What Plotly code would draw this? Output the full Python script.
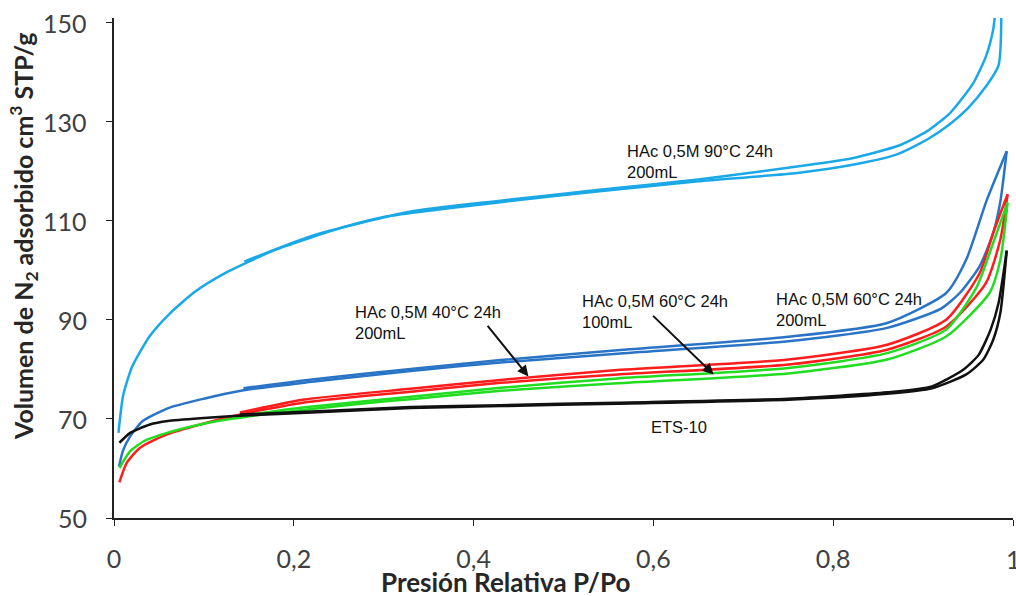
import plotly.graph_objects as go

# ---------------- data ----------------
# HAc 0,5M 90°C 24h 200mL (light blue)
lb_ads_x = [0.005, 0.010, 0.020, 0.040, 0.062, 0.090, 0.125, 0.150, 0.180, 0.220, 0.260, 0.300, 0.330, 0.430, 0.540, 0.650, 0.760, 0.820, 0.870, 0.904, 0.930, 0.950, 0.970, 0.984, 0.987]
lb_ads_y = [67.2, 74.6, 80.5, 86.8, 91.3, 95.7, 99.6, 101.8, 104.2, 106.7, 109.0, 110.8, 111.6, 113.8, 116.0, 118.0, 119.7, 121.3, 123.4, 126.4, 129.6, 132.8, 137.2, 141.5, 158.0]
lb_des_x = [0.987, 0.980, 0.978, 0.970, 0.956, 0.930, 0.904, 0.874, 0.820, 0.760, 0.650, 0.540, 0.430, 0.330, 0.220, 0.145]
lb_des_y = [158.0, 151.5, 148.7, 143.3, 137.9, 131.8, 128.1, 125.3, 122.6, 121.0, 118.4, 116.3, 114.1, 111.9, 107.0, 101.8]

# HAc 0,5M 60°C 24h 200mL (dark blue)
db_ads_x = [0.0056, 0.010, 0.018, 0.032, 0.062, 0.100, 0.144, 0.220, 0.330, 0.430, 0.560, 0.750, 0.860, 0.920, 0.941, 0.963, 0.978, 0.986, 0.993]
db_ads_y = [60.4, 63.6, 66.5, 69.6, 72.3, 74.1, 75.8, 77.5, 79.7, 81.4, 83.2, 85.7, 88.4, 92.3, 95.5, 100.9, 107.6, 114.0, 124.1]
db_des_x = [0.993, 0.971, 0.948, 0.926, 0.860, 0.750, 0.560, 0.430, 0.330, 0.220, 0.144]
db_des_y = [124.1, 114.3, 102.2, 95.5, 89.4, 86.6, 83.9, 81.9, 80.1, 78.0, 76.2]

# HAc 0,5M 40°C 24h 200mL (red)
rd_ads_x = [0.006, 0.014, 0.029, 0.059, 0.096, 0.133, 0.170, 0.210, 0.280, 0.330, 0.430, 0.560, 0.750, 0.860, 0.926, 0.970, 0.986, 0.994]
rd_ads_y = [57.2, 61.1, 64.2, 66.9, 68.9, 70.6, 72.0, 73.3, 74.7, 75.5, 77.3, 79.0, 81.0, 84.0, 88.7, 97.5, 106.3, 115.4]
rd_des_x = [0.994, 0.978, 0.963, 0.926, 0.860, 0.750, 0.560, 0.430, 0.330, 0.210, 0.140]
rd_des_y = [115.4, 107.6, 99.5, 90.1, 85.0, 82.0, 79.9, 77.9, 76.1, 73.9, 71.3]

# HAc 0,5M 60°C 24h 100mL (green)
gr_ads_x = [0.006, 0.018, 0.033, 0.059, 0.096, 0.133, 0.170, 0.210, 0.280, 0.330, 0.430, 0.560, 0.750, 0.860, 0.926, 0.974, 0.986, 0.994]
gr_ads_y = [60.1, 63.5, 65.5, 67.2, 68.9, 70.1, 71.0, 71.8, 73.2, 74.0, 75.7, 77.2, 79.2, 82.0, 86.7, 95.5, 102.2, 113.7]
gr_des_x = [0.994, 0.978, 0.960, 0.926, 0.860, 0.750, 0.560, 0.430, 0.330, 0.210, 0.140]
gr_des_y = [113.7, 105.6, 96.8, 88.1, 83.3, 80.3, 78.2, 76.3, 74.5, 72.3, 70.6]

# ETS-10 (black)
bk_ads_x = [0.006, 0.018, 0.040, 0.060, 0.100, 0.133, 0.170, 0.220, 0.280, 0.330, 0.430, 0.560, 0.750, 0.860, 0.910, 0.948, 0.967, 0.978, 0.986, 0.993]
bk_ads_y = [65.2, 67.2, 68.9, 69.6, 70.2, 70.6, 70.9, 71.3, 71.8, 72.2, 72.6, 73.1, 73.9, 75.1, 76.2, 79.0, 82.0, 86.0, 91.5, 104.0]
bk_des_x = [0.993, 0.984, 0.975, 0.962, 0.945, 0.910, 0.860, 0.750, 0.560, 0.430, 0.330, 0.220, 0.140]
bk_des_y = [104.0, 93.5, 88.0, 83.0, 80.0, 76.6, 75.4, 74.1, 73.3, 72.8, 72.4, 71.5, 70.9]

x_tickvals = [0, 0.2, 0.4, 0.6, 0.8, 1.0]
x_ticktext = ["0", "0,2", "0,4", "0,6", "0,8", "1"]
y_tickvals = [50, 70, 90, 110, 130, 150]
y_ticktext = ["50", "70", "90", "110", "130", "150"]

series = [
    ("HAc 0,5M 90°C 24h 200mL", "#1aa8e6", lb_ads_x, lb_ads_y, lb_des_x, lb_des_y),
    ("HAc 0,5M 60°C 24h 200mL", "#2a74c6", db_ads_x, db_ads_y, db_des_x, db_des_y),
    ("HAc 0,5M 40°C 24h 200mL", "#ff1c1c", rd_ads_x, rd_ads_y, rd_des_x, rd_des_y),
    ("HAc 0,5M 60°C 24h 100mL", "#22dc22", gr_ads_x, gr_ads_y, gr_des_x, gr_des_y),
    ("ETS-10", "#111111", bk_ads_x, bk_ads_y, bk_des_x, bk_des_y),
]

fig = go.Figure()
for name, color, ax_, ay_, dx_, dy_ in series:
    for xs, ys in ((ax_, ay_), (dx_, dy_)):
        fig.add_trace(go.Scatter(
            x=xs, y=ys, mode="lines", name=name, showlegend=False,
            line=dict(color=color, width=2.5, shape="spline", smoothing=0.6),
            hoverinfo="skip"))

lab_font = dict(family="Liberation Sans, Arial, sans-serif", size=16.5, color="#111111")
labels = [
    ("HAc 0,5M 90°C 24h<br>200mL", 625, 161),
    ("HAc 0,5M 40°C 24h<br>200mL", 353, 322),
    ("HAc 0,5M 60°C 24h<br>100mL", 580, 311),
    ("HAc 0,5M 60°C 24h<br>200mL", 774, 309),
]
annotations = []
for txt, px, py in labels:
    annotations.append(dict(text=txt, xref="paper", yref="paper",
                            x=(px - 114) / 899, y=(518 - py) / 500,
                            xanchor="left", yanchor="middle", align="left",
                            showarrow=False, font=lab_font))
annotations.append(dict(text="ETS-10", xref="paper", yref="paper",
                        x=(679 - 114) / 899, y=(518 - 427) / 500,
                        xanchor="center", yanchor="middle",
                        showarrow=False, font=lab_font))
# arrows
for hx, hy, ax, ay in [(0.461, 78.6, -42, -52), (0.667, 79.0, -62, -60)]:
    annotations.append(dict(x=hx, y=hy, xref="x", yref="y", text="",
                            showarrow=True, ax=ax, ay=ay, arrowhead=2,
                            arrowsize=1.1, arrowwidth=2, arrowcolor="#111111"))
tick_font = dict(family="Lato, sans-serif", size=25, color="#404040")
# y tick labels, placed at the tick values
for v, t in zip(y_tickvals, y_ticktext):
    annotations.append(dict(text=t, xref="paper", yref="y", x=(89 - 114) / 899, y=v,
                            xanchor="right", yanchor="middle", showarrow=False,
                            font=tick_font))
# last x tick label "1" (partly cut at the right edge, as in the reference)
annotations.append(dict(text=x_ticktext[-1], xref="paper", yref="paper",
                        x=1.0, y=(518 - 559) / 500, xanchor="center", yanchor="middle",
                        showarrow=False, font=tick_font))
# axis titles
annotations.append(dict(text="<b>Volumen de N<sub>2</sub> adsorbido cm<sup>3</sup> STP/g</b>",
                        xref="paper", yref="paper", x=(24 - 114) / 899, y=(518 - 237) / 500,
                        xanchor="center", yanchor="middle", textangle=-90, showarrow=False,
                        font=dict(family="Lato, sans-serif", size=25, color="#262626")))
annotations.append(dict(text="<b>Presión Relativa P/Po</b>",
                        xref="paper", yref="paper", x=(505 - 114) / 899, y=(518 - 582) / 500,
                        xanchor="center", yanchor="middle", showarrow=False,
                        font=dict(family="Lato, sans-serif", size=26, color="#262626")))

fig.update_layout(
    width=1016, height=596,
    margin=dict(l=114, r=3, t=18, b=78),
    paper_bgcolor="white", plot_bgcolor="white",
    annotations=annotations,
    xaxis=dict(range=[0, 1], tickvals=x_tickvals, ticktext=x_ticktext[:-1] + [""],
               showgrid=False, zeroline=False, showline=True, linecolor="#222222", linewidth=1.5,
               ticks="outside", ticklen=6, tickcolor="#222222", tickfont=tick_font,
               ticklabelstandoff=12),
    yaxis=dict(range=[50, 151], tickvals=y_tickvals, showticklabels=False,
               showgrid=False, zeroline=False, showline=True, linecolor="#222222", linewidth=1.5,
               ticks="outside", ticklen=6, tickcolor="#222222"),
)
fig.write_html("out.html")
